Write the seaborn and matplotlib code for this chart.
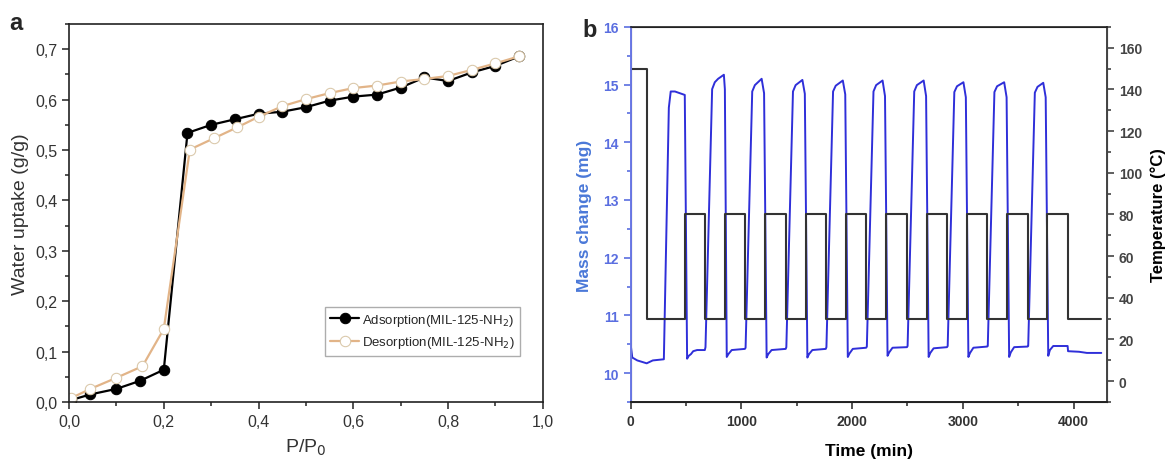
import numpy as np
import pandas as pd
import seaborn as sns
import matplotlib.pyplot as plt
from matplotlib.ticker import MultipleLocator, FuncFormatter

# --- panel a: water isotherm ---
p_ads = [0.005, 0.045, 0.1, 0.15, 0.2, 0.25, 0.3, 0.35, 0.4, 0.45, 0.5, 0.55, 0.6, 0.65, 0.7, 0.75, 0.8, 0.85, 0.9, 0.95]
u_ads = [0.004, 0.015, 0.026, 0.042, 0.064, 0.534, 0.550, 0.561, 0.572, 0.576, 0.585, 0.598, 0.606, 0.610, 0.624, 0.644, 0.637, 0.654, 0.667, 0.686]
p_des = [0.005, 0.045, 0.1, 0.155, 0.2, 0.255, 0.305, 0.355, 0.4, 0.45, 0.5, 0.55, 0.6, 0.65, 0.7, 0.75, 0.8, 0.85, 0.9, 0.95]
u_des = [0.008, 0.026, 0.048, 0.071, 0.145, 0.501, 0.523, 0.545, 0.566, 0.587, 0.601, 0.613, 0.623, 0.628, 0.636, 0.641, 0.647, 0.659, 0.672, 0.686]

# --- panel b: cycling (mass and temperature vs time) ---
t_mass = [0, 15, 60, 145, 200, 300, 345, 362, 400, 489, 510, 525, 545, 565, 600, 670,
          676, 736, 760, 790, 842, 851, 868, 883, 913, 1032,
          1038, 1098, 1122, 1183, 1205, 1228, 1243, 1273, 1400,
          1406, 1466, 1490, 1551, 1573, 1596, 1611, 1641, 1762,
          1768, 1828, 1852, 1916, 1938, 1961, 1976, 2006, 2127,
          2133, 2193, 2217, 2275, 2297, 2320, 2335, 2365, 2495,
          2501, 2561, 2585, 2646, 2668, 2691, 2706, 2736, 2857,
          2863, 2923, 2947, 3005, 3027, 3050, 3065, 3095, 3219,
          3225, 3285, 3309, 3373, 3395, 3418, 3433, 3463, 3584,
          3590, 3650, 3674, 3726, 3748, 3771, 3786, 3816, 3946,
          3950, 4050, 4120, 4250]
mass = [10.50, 10.27, 10.22, 10.17, 10.22, 10.24, 14.60, 14.88, 14.88, 14.82, 10.25, 10.30, 10.33, 10.38, 10.40, 10.40,
        10.45, 14.92, 15.04, 15.10, 15.17, 14.92, 10.28, 10.33, 10.40, 10.42,
        10.44, 14.88, 14.99, 15.10, 14.85, 10.27, 10.33, 10.40, 10.42,
        10.45, 14.88, 14.99, 15.08, 14.84, 10.27, 10.33, 10.40, 10.42,
        10.45, 14.88, 14.98, 15.07, 14.83, 10.28, 10.34, 10.42, 10.44,
        10.46, 14.88, 14.99, 15.07, 14.80, 10.30, 10.36, 10.44, 10.45,
        10.47, 14.88, 14.99, 15.07, 14.80, 10.28, 10.35, 10.43, 10.45,
        10.47, 14.87, 14.97, 15.04, 14.78, 10.28, 10.35, 10.44, 10.46,
        10.47, 14.87, 14.97, 15.04, 14.78, 10.28, 10.36, 10.45, 10.46,
        10.47, 14.86, 14.96, 15.03, 14.78, 10.30, 10.40, 10.47, 10.47,
        10.38, 10.37, 10.35, 10.35]

t_temp = [0, 148, 489, 670, 851, 1032, 1213, 1400, 1581, 1762, 1946, 2127,
          2305, 2495, 2676, 2857, 3035, 3219, 3403, 3584, 3756, 3946, 4251]
temp = [150, 30, 80, 30, 80, 30, 80, 30, 80, 30, 80, 30,
        80, 30, 80, 30, 80, 30, 80, 30, 80, 30, 30]

sns.set_style("ticks")
plt.rcParams['font.family'] = ['Liberation Sans', 'DejaVu Sans']

fig = plt.figure(figsize=(11.7, 4.64), dpi=100)
ax_a = fig.add_axes([0.059, 0.1315, 0.405, 0.8145])
ax_b = fig.add_axes([0.539, 0.1315, 0.407, 0.8085])

comma = FuncFormatter(lambda v, pos: ("%.1f" % v).replace('.', ','))

sns.lineplot(x=p_ads, y=u_ads, ax=ax_a, sort=False, estimator=None, color='black', lw=1.6,
             marker='o', markersize=7.5, markerfacecolor='black', markeredgecolor='black',
             label='Adsorption(MIL-125-NH$_2$)')
sns.lineplot(x=p_des, y=u_des, ax=ax_a, sort=False, estimator=None, color='#e2b488', lw=1.6,
             marker='o', markersize=7.5, markerfacecolor='white', markeredgecolor='#d9c7a8',
             label='Desorption(MIL-125-NH$_2$)')
ax_a.set_xlim(0, 1.0)
ax_a.set_ylim(0, 0.75)
ax_a.xaxis.set_major_locator(MultipleLocator(0.2))
ax_a.xaxis.set_minor_locator(MultipleLocator(0.1))
ax_a.yaxis.set_major_locator(MultipleLocator(0.1))
ax_a.yaxis.set_minor_locator(MultipleLocator(0.05))
ax_a.xaxis.set_major_formatter(comma)
ax_a.yaxis.set_major_formatter(comma)
ax_a.tick_params(which='both', direction='out', labelsize=11.5, colors='#333333', width=1.2)
ax_a.tick_params(which='major', length=5)
ax_a.tick_params(which='minor', length=3)
for s in ax_a.spines.values():
    s.set_color('#222222')
    s.set_linewidth(1.2)
ax_a.set_xlabel('P/P$_0$', fontsize=14, color='#333333', labelpad=6)
ax_a.set_ylabel('Water uptake (g/g)', fontsize=14, color='#333333')
leg = ax_a.legend(loc='lower right', bbox_to_anchor=(0.965, 0.105), fontsize=9.5, frameon=True,
                  fancybox=False, handlelength=2.2, handletextpad=0.2, borderpad=0.4,
                  labelspacing=0.5)
leg.get_frame().set_edgecolor('#999999')
leg.get_frame().set_linewidth(1.0)

# panel b
blue = '#2f2fd9'
sns.lineplot(x=t_mass, y=mass, ax=ax_b, sort=False, estimator=None, color=blue, lw=1.4)
ax_t = ax_b.twinx()
sns.lineplot(x=t_temp, y=temp, ax=ax_t, sort=False, estimator=None, color='#333333', lw=1.5,
             drawstyle='steps-post')
ax_b.set_xlim(0, 4300)
ax_b.set_ylim(9.5, 16)
ax_t.set_ylim(-10, 170)
ax_b.xaxis.set_major_locator(MultipleLocator(1000))
ax_b.xaxis.set_minor_locator(MultipleLocator(500))
ax_b.yaxis.set_major_locator(MultipleLocator(1))
ax_b.yaxis.set_minor_locator(MultipleLocator(0.5))
ax_t.yaxis.set_major_locator(MultipleLocator(20))
ax_t.yaxis.set_minor_locator(MultipleLocator(10))
ax_b.tick_params(axis='x', which='both', direction='out', labelsize=10, colors='#333333', width=1.2)
ax_b.tick_params(axis='y', which='both', direction='out', labelsize=10, colors='#5a6ee0', width=1.2)
ax_t.tick_params(axis='y', which='both', direction='out', labelsize=10, colors='#444444', width=1.2)
for a in (ax_b, ax_t):
    a.tick_params(which='major', length=5)
    a.tick_params(which='minor', length=3)
for lab in ax_b.get_xticklabels() + ax_b.get_yticklabels() + ax_t.get_yticklabels():
    lab.set_fontweight('bold')
ax_t.spines['left'].set_color('#6a78e6')
ax_t.spines['left'].set_linewidth(1.4)
ax_t.spines['right'].set_color('#444444')
ax_t.spines['right'].set_linewidth(1.4)
ax_t.spines['top'].set_color('#222222')
ax_t.spines['bottom'].set_color('#222222')
ax_t.spines['top'].set_linewidth(1.2)
ax_t.spines['bottom'].set_linewidth(1.4)
ax_b.set_xlabel('Time (min)', fontsize=12.5, fontweight='bold', color='black', labelpad=11)
ax_b.set_ylabel('Mass change (mg)', fontsize=12.5, fontweight='bold', color='#4a78d8', labelpad=8)
ax_t.set_ylabel('Temperature (\u00b0C)', fontsize=12, fontweight='bold', color='black', labelpad=6)

fig.text(0.008, 0.935, 'a', fontsize=17, fontweight='bold')
fig.text(0.498, 0.92, 'b', fontsize=17, fontweight='bold')

plt.savefig('out.png', dpi=100)
